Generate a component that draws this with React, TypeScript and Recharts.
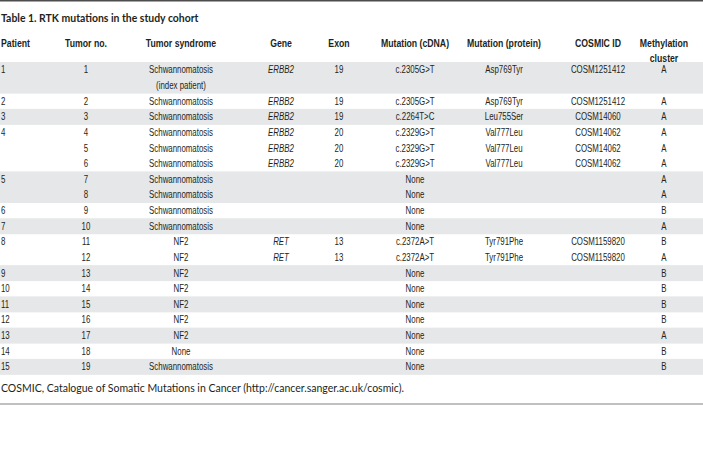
import React from "react";
import { ComposedChart, Bar, XAxis, YAxis, LabelList } from "recharts";

const W = 703;
const H = 465;

const title = "Table 1. RTK mutations in the study cohort";
const footnote =
  "COSMIC, Catalogue of Somatic Mutations in Cancer (http://cancer.sanger.ac.uk/cosmic).";

const headerLines: string[][] = [
  ["Patient"],
  ["Tumor no."],
  ["Tumor syndrome"],
  ["Gene"],
  ["Exon"],
  ["Mutation (cDNA)"],
  ["Mutation (protein)"],
  ["COSMIC ID"],
  ["Methylation", "cluster"],
];

// one entry per text line of the table body (tumor 1 spans two lines)
const patients = ["1", "", "2", "3", "4", "", "", "5", "", "6", "7", "8", "", "9", "10", "11", "12", "13", "14", "15"];
const tumorNos = ["1", "", "2", "3", "4", "5", "6", "7", "8", "9", "10", "11", "12", "13", "14", "15", "16", "17", "18", "19"];
const syndromes = [
  "Schwannomatosis", "(index patient)", "Schwannomatosis", "Schwannomatosis", "Schwannomatosis",
  "Schwannomatosis", "Schwannomatosis", "Schwannomatosis", "Schwannomatosis", "Schwannomatosis",
  "Schwannomatosis", "NF2", "NF2", "NF2", "NF2", "NF2", "NF2", "NF2", "None", "Schwannomatosis",
];
const genes = ["ERBB2", "", "ERBB2", "ERBB2", "ERBB2", "ERBB2", "ERBB2", "", "", "", "", "RET", "RET", "", "", "", "", "", "", ""];
const exons = ["19", "", "19", "19", "20", "20", "20", "", "", "", "", "13", "13", "", "", "", "", "", "", ""];
const cdnas = [
  "c.2305G>T", "", "c.2305G>T", "c.2264T>C", "c.2329G>T", "c.2329G>T", "c.2329G>T",
  "None", "None", "None", "None", "c.2372A>T", "c.2372A>T",
  "None", "None", "None", "None", "None", "None", "None",
];
const proteins = [
  "Asp769Tyr", "", "Asp769Tyr", "Leu755Ser", "Val777Leu", "Val777Leu", "Val777Leu",
  "", "", "", "", "Tyr791Phe", "Tyr791Phe", "", "", "", "", "", "", "",
];
const cosmicIds = [
  "COSM1251412", "", "COSM1251412", "COSM14060", "COSM14062", "COSM14062", "COSM14062",
  "", "", "", "", "COSM1159820", "COSM1159820", "", "", "", "", "", "", "",
];
const clusters = ["A", "", "A", "A", "A", "A", "A", "A", "A", "B", "A", "B", "A", "B", "B", "B", "B", "A", "B", "B"];

const columnKeys = ["patient", "tumor", "syndrome", "gene", "exon", "cdna", "protein", "cosmic", "cluster"];

// layout of the columns (x centre on a 0..W axis)
const colX = [1, 86, 181, 281, 339, 415, 504, 598, 664];

const rows: any[] = tumorNos.map((t, i) => ({
  id: `r${i}`,
  patient: patients[i],
  tumor: t,
  syndrome: syndromes[i],
  gene: genes[i],
  exon: exons[i],
  cdna: cdnas[i],
  protein: proteins[i],
  cosmic: cosmicIds[i],
  cluster: clusters[i],
  span: W,
}));
{
  let g = -1;
  rows.forEach((r) => {
    if (r.patient !== "") g++;
    r.shaded = g % 2 === 0;
  });
}

const BODY_FONT = "'Liberation Sans', Arial, sans-serif";
const TEXT = "#231f20";
const BODY_SCALE = 0.75;
const HEAD_SCALE = 0.83;

const HeaderTick = (props: any) => {
  const { x, y, payload } = props;
  const idx = colX.indexOf(payload.value);
  if (idx < 0) return null;
  const lines = headerLines[idx];
  return (
    <g>
      {lines.map((ln, k) => (
        <text
          key={k}
          transform={`translate(${x},${y - 19 + k * 15.5}) scale(${HEAD_SCALE},1)`}
          x={0}
          y={0}
          textAnchor={idx === 0 ? "start" : "middle"}
          dominantBaseline="central"
          fontFamily={BODY_FONT}
          fontWeight={700}
          fontSize={10.5}
          fill={TEXT}
        >
          {ln}
        </text>
      ))}
    </g>
  );
};

const makeCell = (col: number) => (props: any) => {
  const { x, y, width, height, value } = props;
  if (value === undefined || value === null || value === "") return null;
  const px = Number(x) + Number(width) * (colX[col] / W);
  const py = Number(y) + Number(height) / 2;
  return (
    <text
      transform={`translate(${px},${py}) scale(${BODY_SCALE},1)`}
      x={0}
      y={0}
      textAnchor={col === 0 ? "start" : "middle"}
      dominantBaseline="central"
      fontFamily={BODY_FONT}
      fontSize={10.5}
      fontStyle={col === 3 ? "italic" : "normal"}
      fill={TEXT}
    >
      {value}
    </text>
  );
};

const ShadeShape = (props: any) => {
  const { x, y, width, height, payload } = props;
  if (!payload || !payload.shaded) return <g />;
  return <rect x={x} y={y} width={width} height={height} fill="#e6e7e8" />;
};

export default function App() {
  return (
    <div style={{ position: "absolute", left: 0, top: 0, width: W, height: H, background: "#fff" }}>
      <ComposedChart
        width={W}
        height={H}
        data={rows}
        layout="vertical"
        margin={{ top: 30, right: 0, bottom: 90.5, left: 0 }}
        barCategoryGap={0}
      >
        <XAxis
          type="number"
          orientation="top"
          domain={[0, W]}
          ticks={colX}
          interval={0}
          height={32}
          axisLine={false}
          tickLine={false}
          tickSize={0}
          tickMargin={0}
          tick={<HeaderTick />}
          allowDataOverflow
        />
        <YAxis type="category" dataKey="id" hide />
        <Bar dataKey="span" shape={<ShadeShape />} isAnimationActive={false}>
          {columnKeys.map((k, i) => (
            <LabelList key={k} dataKey={k} content={makeCell(i)} />
          ))}
        </Bar>
        <line x1={0} x2={W} y1={0.75} y2={0.75} stroke="#4d4d4d" strokeWidth={1.5} />
        <text
          transform={`translate(1,17) scale(0.87,1)`}
          x={0}
          y={0}
          dominantBaseline="central"
          fontFamily="Lato, sans-serif"
          fontWeight={700}
          fontSize={12}
          fill={TEXT}
        >
          {title}
        </text>
        <text x={1} y={388} dominantBaseline="central" fontFamily="Lato, sans-serif" fontSize={10.5} fill={TEXT}>
          {footnote}
        </text>
        <line x1={0} x2={W} y1={404} y2={404} stroke="#808080" strokeWidth={1} />
      </ComposedChart>
    </div>
  );
}
